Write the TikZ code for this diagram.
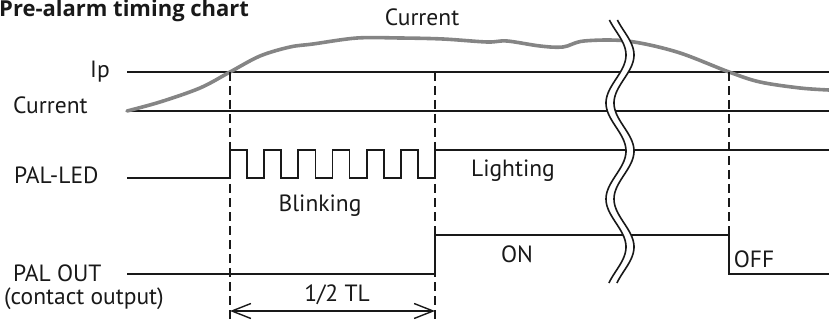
\documentclass[tikz,border=0pt]{standalone}
\usepackage{fontspec}
\setmainfont{PT Sans}
\newfontfamily\titlefont{Open Sans}
\usetikzlibrary{arrows.meta}
\begin{document}
\begin{tikzpicture}[x=1pt,y=-1pt,
  sig/.style={line width=1.7pt, black!90},
  guide/.style={line width=1.7pt, dash pattern=on 9pt off 5pt, black!90},
  cur/.style={line width=3.6pt, black!48, line cap=round, line join=round},
  lbl/.style={font=\fontsize{23.5}{26}\selectfont, inner sep=0pt, text=black!90},
  brk/.style={line width=1.6pt, black!90},
]
\useasboundingbox (0,0) rectangle (829,323);
\clip (0,0) rectangle (829,323);
% title
\node[anchor=base west, inner sep=0pt, font=\titlefont\bfseries\fontsize{22}{24}\selectfont, text=black!90] (title) at (-1,17) {Pre-alarm timing chart};
% key coordinates
\coordinate (ipL) at (127,72);   \coordinate (ipR) at (829,72);
\coordinate (cuL) at (127,111);  \coordinate (cuR) at (829,111);
\coordinate (tA) at (230,72);    \coordinate (tAb) at (230,323);
\coordinate (tB) at (435,72);    \coordinate (tBb) at (435,323);
\coordinate (tC) at (729,72);    \coordinate (tCb) at (729,235);
% level lines
\draw[sig] (ipL) -- (ipR);
\draw[sig] (cuL) -- (cuR);
% current curve
\draw[cur] plot[smooth, tension=0.55] coordinates {(127,111) (160,102) (200,88) (230,72) (260,56) (290,47) (313,44) (357,38) (400,38) (443,39) (487,42) (507,41) (540,46) (563,47) (584,41) (627,41) (677,52) (729,72) (760,82) (800,88) (829,90)};
% guides
\draw[guide] (tA) -- (tAb);
\draw[guide] (tB) -- (tBb);
\draw[guide] (tC) -- (tCb);
% PAL-LED
\coordinate (ledL) at (127,178);
\coordinate (ledR) at (829,150);
\draw[sig, line join=miter] (ledL) -- (230,178)
  foreach \i in {0,...,5} { -- ++(0,-28) -- ++(17.083,0) -- ++(0,28) -- ++(17.083,0) }
  -- ++(0,-28) -- (ledR);
% PAL OUT
\coordinate (outL) at (127,274);
\coordinate (outR) at (829,274);
\draw[sig, line join=miter] (outL) -- (435,274) -- (435,235) -- (729,235) -- (729,274) -- (outR);
% 1/2 TL arrow
\coordinate (arA) at (230,311);
\coordinate (arB) at (435,311);
\draw[line width=1.4pt, black!90, {Straight Barb[length=19pt,width=15pt]}-{Straight Barb[length=19pt,width=15pt]}] (arA) -- (arB);
% break symbol
\draw[white, line width=7pt] plot[domain=20:283, samples=120] ({620+10*cos(3.75*(\x-55))}, \x);
\draw[brk] plot[domain=20:283, samples=120] ({616+10*cos(3.75*(\x-55))}, \x);
\draw[brk] plot[domain=20:283, samples=120] ({624+10*cos(3.75*(\x-55))}, \x);
% labels
\node[lbl, anchor=east] (lip) at (110,72) {Ip};
\node[lbl, anchor=west] (lcur) at (13,105) {Current};
\node[lbl, anchor=west] (lled) at (14,175) {PAL-LED};
\node[lbl, anchor=west] (lout) at (13,273) {PAL OUT};
\node[lbl, anchor=west] (lcon) at (4,299) {(contact output)};
\node[lbl] (lcurtop) at (422,17) {Current};
\node[lbl] (lblink) at (320,206) {Blinking};
\node[lbl] (llight) at (513,171) {Lighting};
\node[lbl] (lon) at (517,254) {ON};
\node[lbl] (loff) at (754,259) {OFF};
\node[lbl] (lhalf) at (337,295) {1/2 TL};
\end{tikzpicture}
\end{document}
